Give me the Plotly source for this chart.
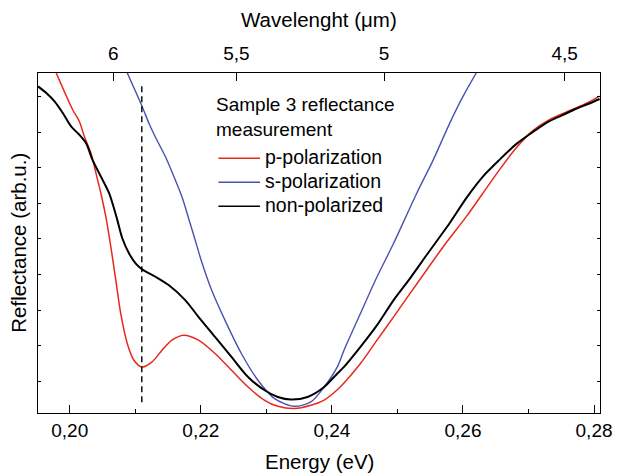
import plotly.graph_objects as go

# ---- data (energy in eV, reflectance in arbitrary units) ----
p_energy = [0.19794, 0.20045, 0.20147, 0.20223, 0.20324, 0.20400, 0.20475, 0.20551, 0.20627,
            0.20703, 0.20778, 0.20878, 0.20980, 0.21105, 0.21257, 0.21408, 0.21559, 0.21737,
            0.21964, 0.22217, 0.22468, 0.22721, 0.22974, 0.23175, 0.23428, 0.23679, 0.23882,
            0.24083, 0.24185, 0.24436, 0.24689, 0.24942, 0.25193, 0.25446, 0.25699, 0.26051,
            0.26304, 0.26556, 0.26808, 0.27061, 0.27313, 0.27565, 0.27716, 0.27918, 0.28085]
p_refl = [9.668, 8.634, 8.304, 7.882, 7.414, 6.851, 6.287, 5.628, 4.783,
          3.845, 2.907, 2.062, 1.592, 1.403, 1.544, 1.873, 2.155, 2.296,
          2.155, 1.780, 1.310, 0.839, 0.465, 0.296, 0.231, 0.324, 0.470,
          0.760, 0.950, 1.500, 2.155, 2.811, 3.470, 4.127, 4.783, 5.628,
          6.287, 6.944, 7.550, 8.040, 8.350, 8.560, 8.676, 8.845, 9.014]

s_energy = [0.20878, 0.21105, 0.21207, 0.21308, 0.21459, 0.21585, 0.21711, 0.21812, 0.21914,
            0.22014, 0.22165, 0.22368, 0.22619, 0.22872, 0.23125, 0.23428, 0.23679, 0.23882,
            0.24083, 0.24185, 0.24436, 0.24689, 0.24942, 0.25295, 0.25547, 0.25799, 0.26001,
            0.26203]
s_refl = [9.668, 8.727, 8.259, 7.860, 7.318, 6.775, 6.192, 5.592, 4.972,
          4.352, 3.563, 2.718, 1.780, 1.028, 0.513, 0.296, 0.417, 0.839,
          1.403, 1.873, 2.907, 3.938, 4.879, 6.287, 7.225, 8.259, 9.008,
          9.668]

n_energy = [0.19516, 0.19643, 0.19768, 0.19894, 0.20021, 0.20147, 0.20248, 0.20348, 0.20475,
            0.20601, 0.20712, 0.20802, 0.20904, 0.21005, 0.21105, 0.21308, 0.21509, 0.21762,
            0.21964, 0.22217, 0.22468, 0.22721, 0.22974, 0.23175, 0.23376, 0.23629, 0.23882,
            0.24083, 0.24185, 0.24436, 0.24689, 0.24942, 0.25193, 0.25446, 0.25623, 0.25799,
            0.26051, 0.26304, 0.26556, 0.26808, 0.27061, 0.27313, 0.27565, 0.27716, 0.27918,
            0.28085]
n_refl = [9.290, 9.104, 8.868, 8.541, 8.163, 7.930, 7.696, 7.225, 6.755,
          6.287, 5.628, 5.020, 4.597, 4.315, 4.146, 3.938, 3.704, 3.282,
          2.811, 2.248, 1.685, 1.121, 0.746, 0.558, 0.485, 0.558, 0.839,
          1.217, 1.403, 1.966, 2.577, 3.282, 3.893, 4.549, 5.000, 5.450,
          6.150, 6.755, 7.225, 7.660, 8.000, 8.304, 8.521, 8.654, 8.803,
          8.935]

energy_ticks = [0.20, 0.22, 0.24, 0.26, 0.28]
energy_ticktext = ["0,20", "0,22", "0,24", "0,26", "0,28"]
energy_minor = [0.21, 0.23, 0.25, 0.27]
wavelength_ticks = [6.0, 5.5, 5.0, 4.5]          # micrometres
wavelength_ticktext = ["6", "5,5", "5", "4,5"]
refl_ticks = [1, 2, 3, 4, 5, 6, 7, 8, 9]
marker_energy = 0.2110                            # dashed marker line
marker_refl = [0.408, 9.394]

series_names = ["p-polarization", "s-polarization", "non-polarized"]
series_colors = ["#e8281e", "#4a52b0", "#000000"]
series_widths = [1.5, 1.4, 2.0]
legend_title = ["Sample 3 reflectance", "measurement"]

HC = 1.23984  # eV*um
x_range = [0.19516, 0.28091]
y_range = [0.107, 9.667]

FONT = "Liberation Sans, Arial, sans-serif"

fig = go.Figure()
for name, xs, ys, col, w in zip(series_names,
                                [p_energy, s_energy, n_energy],
                                [p_refl, s_refl, n_refl],
                                series_colors, series_widths):
    fig.add_trace(go.Scatter(x=xs, y=ys, mode="lines", name=name, showlegend=False,
                             line=dict(color=col, width=w, shape="spline", smoothing=0.8)))

# invisible trace to activate the top wavelength axis
fig.add_trace(go.Scatter(x=x_range, y=y_range, xaxis="x2", mode="lines",
                         line=dict(width=0), opacity=0, showlegend=False, hoverinfo="skip"))

fig.add_shape(type="line", xref="x", yref="y", x0=marker_energy, x1=marker_energy,
              y0=marker_refl[0], y1=marker_refl[1],
              line=dict(color="black", width=1.4, dash="6px,4px"))

# ---- hand-placed legend (text + sample lines) ----
annotations = []
leg_x_line = (0.3210, 0.3951)
leg_x_text = 0.4000
leg_title_y = [0.9088, 0.8324]
leg_item_y = [0.7529, 0.6824, 0.6118]
for t, yy in zip(legend_title, leg_title_y):
    annotations.append(dict(text=t, xref="paper", yref="paper", x=0.3135, y=yy,
                            xanchor="left", yanchor="middle", showarrow=False,
                            font=dict(size=19)))
for name, col, yy in zip(series_names, series_colors, leg_item_y):
    annotations.append(dict(text=name, xref="paper", yref="paper", x=leg_x_text, y=yy,
                            xanchor="left", yanchor="middle", showarrow=False,
                            font=dict(size=19.5)))
    fig.add_shape(type="line", xref="paper", yref="paper", x0=leg_x_line[0],
                  x1=leg_x_line[1], y0=yy - 0.004, y1=yy - 0.004,
                  line=dict(color=col, width=1.5))

axis_common = dict(showgrid=False, zeroline=False, showline=True, linecolor="black",
                   linewidth=1.3, ticks="inside", tickcolor="black", tickwidth=1.3)

annotations += [
    dict(text="Energy (eV)", xref="paper", yref="paper", x=0.5, y=-0.144,
         xanchor="center", yanchor="middle", showarrow=False, font=dict(size=20.5)),
    dict(text="Wavelenght (μm)", xref="paper", yref="paper", x=0.5, y=1.156,
         xanchor="center", yanchor="middle", showarrow=False, font=dict(size=20.5)),
    dict(text="Reflectance (arb.u.)", xref="paper", yref="paper", x=-0.036, y=0.5,
         xanchor="center", yanchor="middle", textangle=-90, showarrow=False,
         font=dict(size=20.5)),
]

fig.update_layout(
    width=624, height=474,
    margin=dict(l=38, r=19, t=73, b=61),
    paper_bgcolor="white", plot_bgcolor="white",
    font=dict(family=FONT, color="black"),
    xaxis=dict(range=x_range, tickvals=energy_ticks, ticktext=energy_ticktext,
               ticklen=8, tickfont=dict(size=19), mirror=False,
               minor=dict(tickvals=energy_minor, ticklen=4, ticks="inside",
                          tickcolor="black", tickwidth=1.3),
               **axis_common),
    xaxis2=dict(range=x_range, overlaying="x", side="top",
                tickvals=[HC / w for w in wavelength_ticks], ticktext=wavelength_ticktext,
                ticklen=8, tickfont=dict(size=19), ticklabelstandoff=4, **axis_common),
    yaxis=dict(range=y_range, tickvals=refl_ticks, showticklabels=False,
               ticklen=3, mirror="ticks", **axis_common),
    showlegend=False,
    annotations=annotations,
)

fig.write_html("out.html", config={"displayModeBar": False},
               post_script="document.body.style.margin='0';document.body.style.padding='0';")
